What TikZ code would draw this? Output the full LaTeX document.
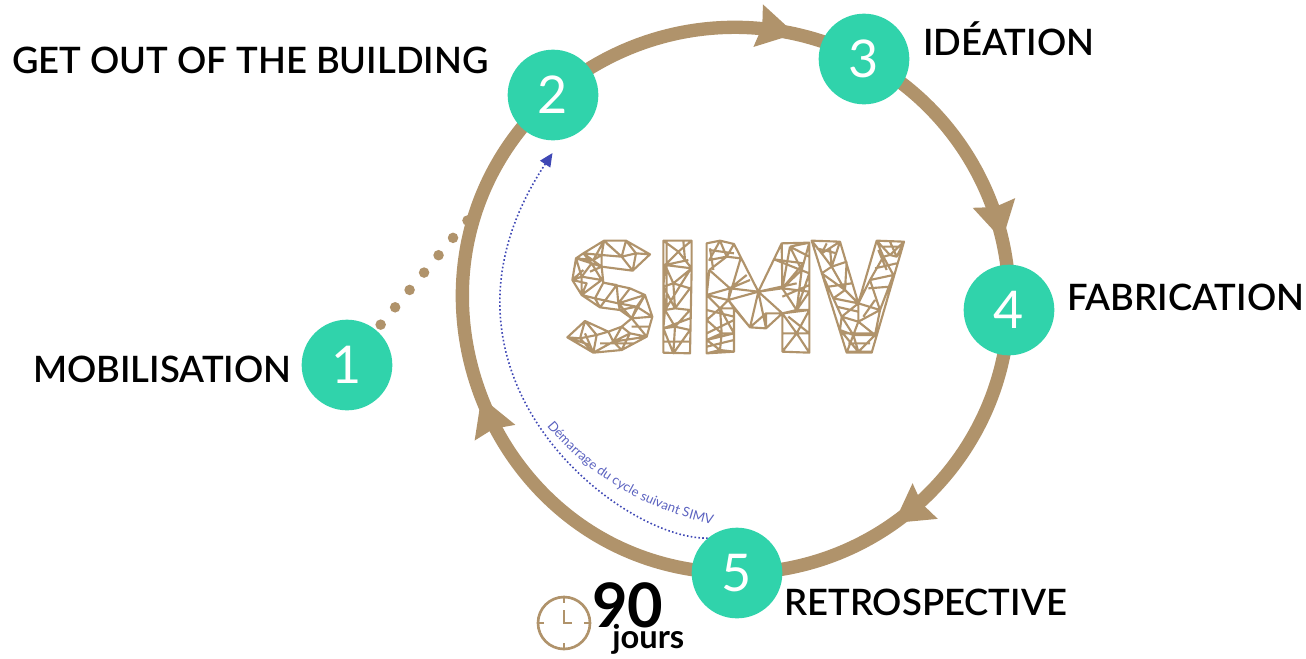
\documentclass[tikz,border=0pt]{standalone}
\usepackage{fontspec}
\setmainfont{Lato}
\newfontfamily\stagefont{Lato Semibold}
\usetikzlibrary{positioning,arrows.meta,decorations.markings,decorations.text,backgrounds}
\definecolor{simvtan}{HTML}{B0936B}
\definecolor{simvgreen}{HTML}{30D3AB}
\definecolor{simvblue}{HTML}{3F48B5}
\tikzset{
  stage/.style={circle,fill=simvgreen,minimum size=68pt,inner sep=0pt,text=white,font=\fontsize{39}{39}\selectfont},
  stagelabel/.style={text=black,inner sep=0pt,anchor=west,font=\stagefont\fontsize{27.3}{30}\selectfont},
  ringtip/.tip={Stealth[length=28pt,width=31pt,inset=2.5pt]},
  ringarc/.style={draw=simvtan,line width=10pt,postaction={decorate},
    decoration={markings,mark=at position #1 with {\arrow[simvtan]{ringtip}}}},
  mesh/.style={draw=simvtan,line width=1.6pt,line join=round}
}
\begin{document}
\begin{tikzpicture}[x=0.75pt,y=-0.75pt]
   \useasboundingbox (0,0) rectangle (1306,658);
   \node[stage] (n1) at (347,365) {1};
   \node[stage] (n2) at (553,95) {2};
   \node[stage] (n3) at (864,59) {3};
   \node[stage] (n4) at (1009,310) {4};
   \node[stage] (n5) at (737,573) {5};
   \node[stagelabel] (l1) at (33,369) {MOBILISATION};
   \node[stagelabel] (l2) at (12,60) {GET OUT OF THE BUILDING};
   \node[stagelabel] (l3) at (923,39) {IDÉATION};
   \node[stagelabel] (l4) at (1067,297) {FABRICATION};
   \node[stagelabel] (l5) at (784,602) {RETROSPECTIVE};
   \coordinate (dotend) at (467.5,220.5);
   \coordinate (nextend) at (552.5,153);
   \begin{scope}[on background layer]
     \path[ringarc=.78] (n2.center) to[bend left=34,looseness=.94] (n3.center);
     \path[ringarc=.77] (n3.center) to[bend left=32,looseness=.92] (n4.center);
     \path[ringarc=.6] (n4.center) to[bend left=44,looseness=.99] (n5.center);
     \path[ringarc=.5] (n5.center) to[bend left=69,looseness=1.25] (n2.center);
     \draw[simvtan,line width=7.9pt,line cap=round,dash pattern=on 0pt off 16.95pt] (dotend) -- (n1.center);
   \end{scope}
   % next cycle
   \draw[simvblue,line width=1.2pt,dash pattern=on 1.2pt off 1.7pt,-{Triangle[length=10pt,width=9pt]}]
     (n5.130) .. controls (620,540) and (407,373) .. (nextend);
   \path[decorate,decoration={text along path,
     text={|\fontsize{9.9}{9}\selectfont\color{simvblue!85!white}|Démarrage du cycle suivant SIMV}}]
     (547,426) .. controls (585,472) and (640,509) .. (716,525);
   % SIMV
   \begin{scope}[shift={(550,220)},x=0.25pt,y=-0.25pt]
     % S
     \draw[mesh] (300,103)--(248,152)--(155,140)--(160,188)--(240,205)--(285,225)--(307,290)--(290,350)--(215,390)--(130,398)--(52,352)--(105,303)--(175,335)--(215,320)--(245,295)--(210,270)--(150,262)--(95,225)--(67,180)--(78,115)--(100,100)--(162,62)--(228,62)--cycle
       (100,100)--(155,105)--(162,62)--(215,110)--(228,62)--(258,100)--(300,103)
       (258,100)--(215,110)--(248,152)--(258,100) (215,110)--(155,105)--(155,140)--(100,100)
       (78,115)--(125,130)--(155,140) (125,130)--(100,100) (125,130)--(95,170)--(67,180)
       (95,170)--(78,115) (95,170)--(155,180)--(125,130) (95,170)--(95,225)--(155,180) (95,225)--(110,190)--(67,180)
       (95,225)--(135,235)--(160,188) (135,235)--(205,250)--(200,195) (135,235)--(150,262)
       (205,250)--(210,270) (205,250)--(285,225) (240,205)--(205,250)--(260,260)--(285,225)
       (260,260)--(307,290)--(245,295)--(260,260) (245,295)--(290,350)--(240,340)--(215,320)
       (240,340)--(215,390) (240,340)--(190,365)--(215,320) (175,335)--(190,365)--(130,398)
       (190,365)--(215,390) (175,335)--(140,345)--(130,398) (140,345)--(105,303)
       (140,345)--(90,355)--(52,352) (90,355)--(105,303) (90,355)--(130,398) (190,365)--(290,350)
       (130,120)--(78,115) (130,120)--(162,62) (155,105)--(130,120) (228,62)--(300,103) (215,110)--(170,70)
       (120,155)--(155,140) (67,180)--(100,150) (160,188)--(200,195)--(150,262) (205,250)--(245,295)
       (285,225)--(245,295) (260,260)--(210,270) (245,320)--(300,320) (150,370)--(250,370)
       (130,398)--(105,340) (52,352)--(120,375);
     % I
     \draw[mesh] (340,62)--(425,62)--(425,145)--(420,400)--(340,398)--cycle
       (340,62)--(385,95)--(425,62) (385,95)--(345,135) (385,95)--(425,145)--(345,135)--(370,190)--(425,145)
       (370,190)--(340,200)--(345,135) (370,190)--(420,205)--(375,265)--(370,190) (375,265)--(340,200)
       (375,265)--(345,270)--(340,200) (375,265)--(420,270) (345,270)--(375,320)--(420,270)
       (375,320)--(340,325)--(345,270) (375,320)--(420,330) (340,325)--(370,400)--(420,330) (375,320)--(370,400)
       (345,270)--(420,150) (345,135)--(415,120) (340,325)--(420,295) (340,365)--(420,365)
       (350,62)--(350,270) (400,62)--(405,120);
     % M
     \draw[mesh] (470,70)--(510,62)--(552,72)--(625,215)--(695,70)--(778,68)--(778,398)--(697,395)--(697,280)--(648,325)--(600,322)--(552,265)--(552,395)--(470,400)--cycle
       (510,62)--(478,120)--(530,110)--(510,62) (530,110)--(552,72) (530,110)--(572,115) (478,150)--(530,110)
       (478,150)--(540,205)--(590,165) (478,150)--(470,225)--(540,205) (470,225)--(535,240)--(540,205)
       (535,240)--(625,215)--(540,205) (535,240)--(600,322)--(625,215)--(648,325) (625,215)--(697,280)
       (625,215)--(697,205)--(695,70) (672,118)--(778,160) (720,80)--(778,68) (720,80)--(697,205)
       (720,80)--(755,150)--(778,68) (755,150)--(697,205)--(740,270)--(755,150) (697,205)--(778,215)--(740,270)
       (697,280)--(778,270)--(740,270)--(697,280) (600,322)--(648,280)--(697,280) (648,325)--(648,280)
       (697,280)--(740,340)--(778,270) (740,340)--(697,395) (740,340)--(778,398)
       (470,225)--(510,265)--(535,240)--(552,265)--(510,265)--(470,300)--(470,225) (470,300)--(515,340)--(510,265)
       (510,265)--(552,340)--(515,340)--(470,360)--(470,300) (470,360)--(510,390)--(515,340) (510,390)--(470,400)
       (470,360)--(552,340) (510,390)--(552,395)
       (478,90)--(552,100) (490,150)--(480,85) (572,115)--(535,240) (600,180)--(540,205) (470,270)--(552,290)
       (552,300)--(470,340) (470,380)--(552,360) (697,205)--(760,130)--(672,118) (740,270)--(778,160)
       (697,230)--(778,195) (625,215)--(740,190) (720,80)--(778,110) (715,290)--(778,340) (697,340)--(778,340);
     % V
     \draw[mesh] (785,62)--(870,65)--(925,250)--(980,62)--(1062,65)--(965,398)--(890,398)--cycle
       (785,62)--(815,100)--(830,70) (815,100)--(870,65) (815,100)--(845,140)--(870,65) (845,140)--(890,125)
       (815,160)--(845,140) (815,160)--(885,210)--(845,140) (885,210)--(890,125) (885,210)--(850,235)--(815,160)
       (885,210)--(925,250)--(850,235) (925,250)--(875,290)--(850,235) (875,290)--(925,305)--(925,250)
       (875,290)--(910,345)--(925,305) (875,290)--(870,330)--(910,345) (870,330)--(925,395)--(910,345)--(975,345)--(925,395)
       (925,305)--(975,345) (925,305)--(990,270)--(925,250) (990,270)--(975,345) (925,250)--(960,180)--(990,270)
       (960,180)--(1030,165)--(990,270) (960,180)--(1000,110)--(1030,165) (1000,110)--(980,62)
       (980,62)--(1020,105)--(1062,65) (1020,105)--(1000,110) (1020,65)--(1040,110)--(1062,65) (1020,105)--(1040,110)
       (890,395)--(965,395) (890,398)--(910,345)
       (800,85)--(860,100) (840,85)--(845,140) (835,200)--(905,190) (860,260)--(925,275) (880,340)--(975,340)
       (895,370)--(960,370) (975,240)--(940,290) (955,205)--(1020,200) (1040,130)--(975,145) (1000,80)--(1050,80)
       (985,90)--(1010,150);
   \end{scope}
   % 90 jours
   \node[circle,draw=simvtan,line width=2pt,minimum size=39pt,inner sep=0pt] (clock) at (564,623) {};
   \draw[simvtan,line width=2pt] (clock.north) -- +(0,7) (clock.south) -- +(0,-7) (clock.east) -- +(-7,0) (clock.west) -- +(7,0);
   \draw[simvtan,line width=2pt] (564,610) -- (clock.center) -- (572,623);
   \node[inner sep=0pt,anchor=west,font=\fontsize{46}{46}\selectfont\bfseries] (days) at (592,605) {90};
   \node[inner sep=0pt,font=\fontsize{24.5}{24}\selectfont\bfseries] (jours) [below right=-3pt and 15pt of days.south west] {jours};
\end{tikzpicture}
\end{document}
